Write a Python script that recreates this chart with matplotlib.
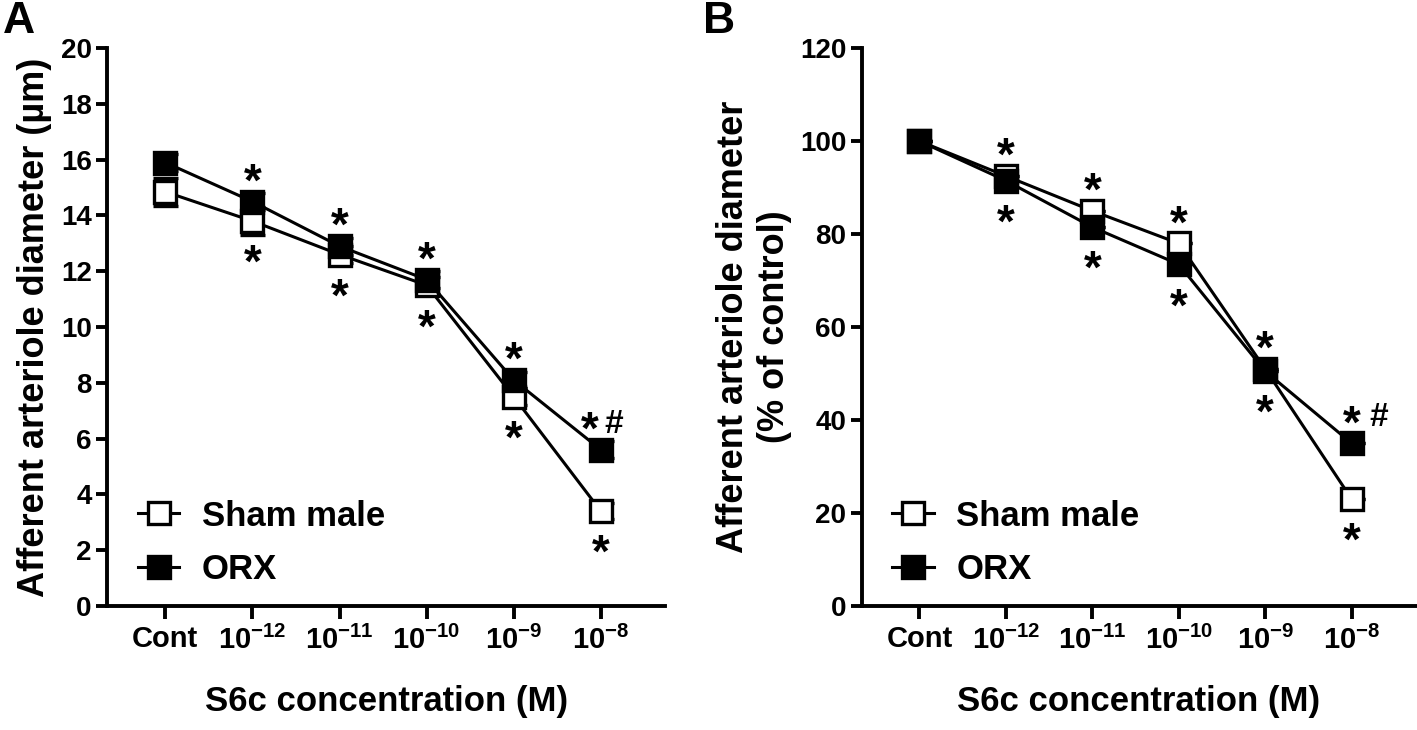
import matplotlib
matplotlib.use("Agg")
import matplotlib.pyplot as plt
from matplotlib.lines import Line2D

plt.rcParams['font.family'] = ['Liberation Sans', 'DejaVu Sans']
plt.rcParams['font.weight'] = 'bold'
plt.rcParams['mathtext.fontset'] = 'custom'
plt.rcParams['mathtext.rm'] = 'Liberation Sans:bold'
plt.rcParams['mathtext.bf'] = 'Liberation Sans:bold'
plt.rcParams['mathtext.default'] = 'regular'

# kategoriler
kategoriler = ['Cont', '$10^{-12}$', '$10^{-11}$', '$10^{-10}$', '$10^{-9}$', '$10^{-8}$']

# Panel A: çap (µm)
sham_a = [14.85, 13.8, 12.6, 11.5, 7.5, 3.4]
sham_a_sem = [0.5, 0.5, 0.3, 0.3, 0.3, 0.3]
orx_a = [15.9, 14.5, 12.9, 11.7, 8.1, 5.6]
orx_a_sem = [0.3, 0.3, 0.3, 0.3, 0.3, 0.3]

# Panel B: kontrolün yüzdesi
sham_b = [100, 92.5, 85, 78, 51, 23]
orx_b = [100, 91.5, 81.5, 73.5, 50.5, 35]

# anlamlılık işaretleri: (üstte *, altta *, # var mı)
isaret = [(False, False, False), (True, True, False), (True, True, False),
          (True, True, False), (True, True, False), (True, True, True)]

fig = plt.figure(figsize=(14.17, 7.3), dpi=100)
ax_a = fig.add_axes([0.0755, 0.170, 0.394, 0.764])
ax_b = fig.add_axes([0.608, 0.170, 0.391, 0.764])

x = list(range(len(kategoriler)))


def ciz(ax, sham, orx, sham_sem, orx_sem, ust, yticks, ylabel, yildiz_dx, diyez_dx):
    ax.errorbar(x, sham, yerr=sham_sem, color='black', lw=2.2, marker='s', ms=16,
                mfc='white', mec='black', mew=2.4, capsize=9, capthick=2.6,
                elinewidth=2.2, zorder=3)
    ax.errorbar(x, orx, yerr=orx_sem, color='black', lw=2.2, marker='s', ms=16,
                mfc='black', mec='black', mew=2.4, capsize=9, capthick=2.6,
                elinewidth=2.2, zorder=4)
    for i, (yukari, asagi, diyez) in enumerate(isaret):
        hi = max(sham[i], orx[i])
        lo = min(sham[i], orx[i])
        dx = yildiz_dx if diyez else 0
        if yukari:
            ax.annotate('*', (i, hi), xytext=(dx, 6), textcoords='offset pixels',
                        ha='center', va='baseline', fontsize=33, fontweight='bold')
        if diyez:
            ax.annotate('#', (i, hi), xytext=(diyez_dx, 17), textcoords='offset pixels',
                        ha='center', va='baseline', fontsize=24, fontweight='bold')
        if asagi:
            ax.annotate('*', (i, lo), xytext=(0, -56), textcoords='offset pixels',
                        ha='center', va='baseline', fontsize=33, fontweight='bold')
    ax.set_xlim(-0.67, 5.74)
    ax.set_ylim(0, ust)
    ax.set_yticks(yticks)
    ax.set_xticks(x)
    ax.set_xticklabels(kategoriler)
    for s in ['top', 'right']:
        ax.spines[s].set_visible(False)
    for s in ['left', 'bottom']:
        ax.spines[s].set_linewidth(2.8)
    ax.tick_params(axis='y', width=2.8, length=8, labelsize=20, pad=3)
    ax.tick_params(axis='x', width=2.8, length=9, labelsize=21, pad=5)
    ax.set_ylabel(ylabel, fontsize=26, fontweight='bold', labelpad=6)
    ax.set_xlabel('S6c concentration (M)', fontsize=25, fontweight='bold', labelpad=22)
    for lbl in ax.get_xticklabels() + ax.get_yticklabels():
        lbl.set_fontweight('bold')
    h1 = Line2D([], [], color='black', lw=2.2, marker='s', ms=16, mfc='white',
                mec='black', mew=2.4)
    h2 = Line2D([], [], color='black', lw=2.2, marker='s', ms=16, mfc='black',
                mec='black', mew=2.4)
    leg = ax.legend([h1, h2], ['Sham male', 'ORX'], loc='lower left',
                    bbox_to_anchor=(0.055, 0.035), borderaxespad=0, borderpad=0,
                    frameon=False, fontsize=25, handlelength=1.2,
                    handletextpad=0.65, labelspacing=0.6)
    for t in leg.get_texts():
        t.set_fontweight('bold')


ciz(ax_a, sham_a, orx_a, sham_a_sem, orx_a_sem, 20, range(0, 21, 2),
    'Afferent arteriole diameter (µm)', -11, 13)
ciz(ax_b, sham_b, orx_b, [0] * 6, [0] * 6, 120, range(0, 121, 20),
    'Afferent arteriole diameter\n(% of control)', 0, 27)

fig.text(0.002, 0.998, 'A', fontsize=32, fontweight='bold', va='top')
fig.text(0.496, 0.998, 'B', fontsize=32, fontweight='bold', va='top')

fig.savefig('out.png', dpi=100)
